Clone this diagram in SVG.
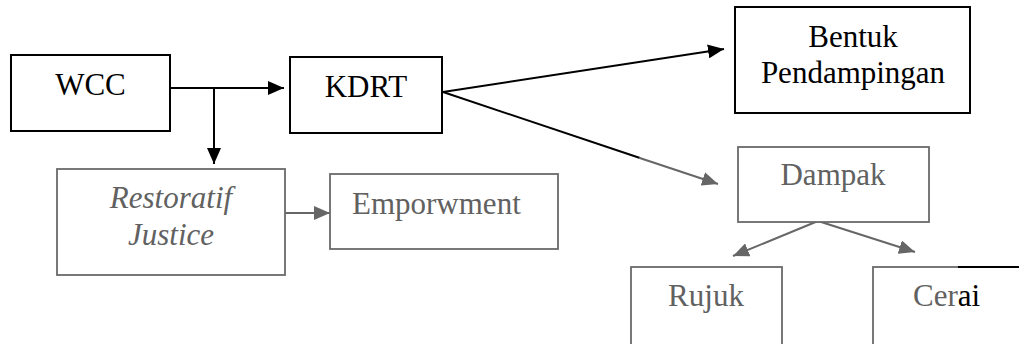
<svg xmlns="http://www.w3.org/2000/svg" width="1019" height="344" viewBox="0 0 1019 344">
<defs>
<marker id="ak" markerUnits="userSpaceOnUse" markerWidth="16" markerHeight="14" refX="16" refY="7" orient="auto"><path d="M0,0 L16,7 L0,14 z" fill="#000"/></marker>
<marker id="ag" markerUnits="userSpaceOnUse" markerWidth="16" markerHeight="14" refX="16" refY="7" orient="auto"><path d="M0,0 L16,7 L0,14 z" fill="#666"/></marker>
</defs>
<rect width="1019" height="344" fill="#fff"/>
<g id="connectors" stroke-width="2" fill="none">
<g stroke="#000">
<line x1="170" y1="88" x2="284" y2="88" marker-end="url(#ak)"/>
<line x1="214" y1="88" x2="214" y2="164" marker-end="url(#ak)"/>
<line x1="443" y1="92" x2="724" y2="49" marker-end="url(#ak)"/>
<line x1="443" y1="92" x2="640" y2="158"/>
</g>
<g stroke="#666">
<line x1="639" y1="157.7" x2="718" y2="184" marker-end="url(#ag)"/>
<line x1="285" y1="213" x2="330" y2="213" marker-end="url(#ag)"/>
<line x1="818" y1="221" x2="733" y2="256" marker-end="url(#ag)"/>
<line x1="818" y1="221" x2="915" y2="252" marker-end="url(#ag)"/>
</g>
</g>
<g id="wcc"><rect x="11" y="55" width="159" height="76" fill="#fff" stroke="#000" stroke-width="2"/><text x="90.5" y="95" text-anchor="middle" font-family="Liberation Serif" font-size="31" fill="#000">WCC</text></g>
<g id="kdrt"><rect x="290" y="57" width="152" height="76" fill="#fff" stroke="#000" stroke-width="2"/><text x="366" y="97" text-anchor="middle" font-family="Liberation Serif" font-size="31" fill="#000">KDRT</text></g>
<g id="bentuk"><rect x="735" y="7" width="235" height="106" fill="#fff" stroke="#000" stroke-width="2"/><text x="853" y="47" text-anchor="middle" font-family="Liberation Serif" font-size="31" fill="#000">Bentuk</text><text x="853" y="83" text-anchor="middle" font-family="Liberation Serif" font-size="31" fill="#000">Pendampingan</text></g>
<g id="restoratif"><rect x="57" y="169" width="228" height="106" fill="#fff" stroke="#6a6a6a" stroke-width="1.8"/><text x="171" y="208" text-anchor="middle" font-style="italic" font-family="Liberation Serif" font-size="31" fill="#616161">Restoratif</text><text x="171" y="245" text-anchor="middle" font-style="italic" font-family="Liberation Serif" font-size="31" fill="#616161">Justice</text></g>
<g id="emporwment"><rect x="330" y="174" width="228" height="75" fill="#fff" stroke="#6a6a6a" stroke-width="1.8"/><text x="352" y="214" font-family="Liberation Serif" font-size="31" fill="#616161">Emporwment</text></g>
<g id="dampak"><rect x="738" y="147" width="191" height="75" fill="#fff" stroke="#6a6a6a" stroke-width="1.8"/><text x="833" y="185" text-anchor="middle" font-family="Liberation Serif" font-size="31" fill="#616161">Dampak</text></g>
<g id="rujuk"><rect x="631" y="267" width="151" height="90" fill="#fff" stroke="#6a6a6a" stroke-width="1.8"/><text x="706" y="306" text-anchor="middle" font-family="Liberation Serif" font-size="31" fill="#616161">Rujuk</text></g>
<g id="cerai"><rect x="873" y="267" width="160" height="90" fill="#fff" stroke="#6a6a6a" stroke-width="1.8"/><line x1="958" y1="267" x2="1019" y2="267" stroke="#000" stroke-width="2"/><text x="913" y="306" font-family="Liberation Serif" font-size="31" fill="#616161">Cer<tspan fill="#000">ai</tspan></text></g>
</svg>
